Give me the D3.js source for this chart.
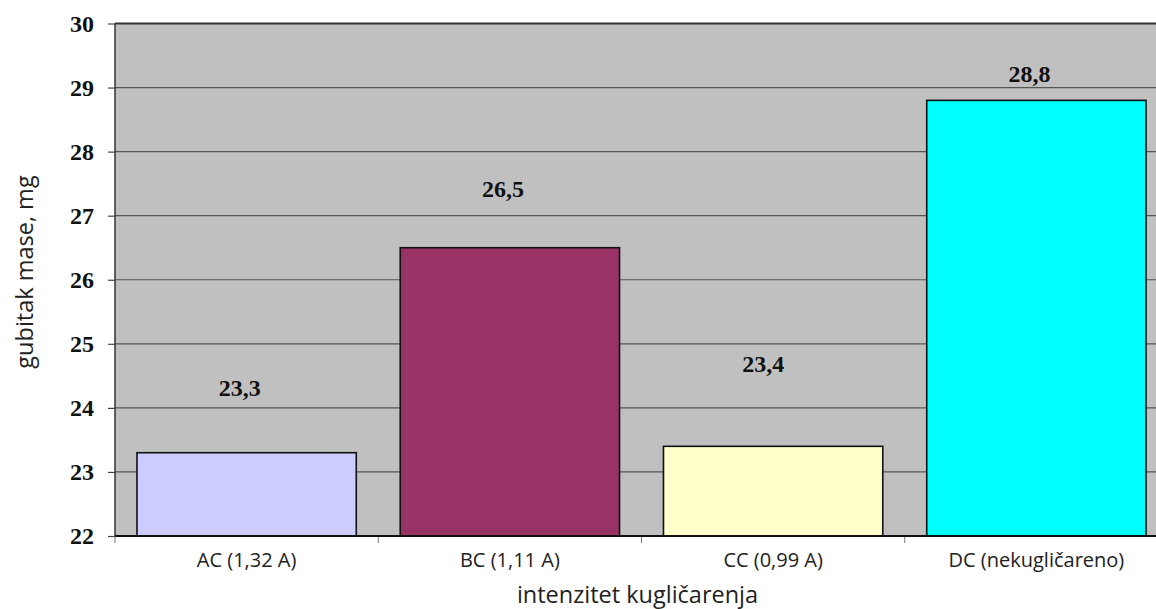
<!DOCTYPE html>
<html><head><meta charset="utf-8">
<script src="https://cdn.jsdelivr.net/npm/d3@7"></script>
<style>html,body{margin:0;padding:0;background:#fff;}svg{display:block;}</style>
</head><body>
<script>
const categories = ["AC (1,32 A)", "BC (1,11 A)", "CC (0,99 A)", "DC (nekugličareno)"];
const values = [23.3, 26.5, 23.4, 28.8];
const valueLabels = ["23,3", "26,5", "23,4", "28,8"];
const barColors = ["#ccccff", "#993366", "#ffffcc", "#00ffff"];
const yTicks = [22, 23, 24, 25, 26, 27, 28, 29, 30];
const yTitle = "gubitak mase, mg";
const xTitle = "intenzitet kugličarenja";

const W = 1156, H = 609;
const plot = {left: 115, right: 1168, top: 23.5, bottom: 536};
const svg = d3.select("body").append("svg").attr("width", W).attr("height", H);

const x = d3.scaleBand().domain(categories).range([plot.left, plot.right]).paddingInner(0.167).paddingOuter(0.0835);
const xb = d3.scaleBand().domain(categories).range([plot.left, plot.right]);
const y = d3.scaleLinear().domain([22, 30]).range([plot.bottom, plot.top]);

// background
svg.append("rect").attr("x", plot.left).attr("y", plot.top)
  .attr("width", plot.right - plot.left).attr("height", plot.bottom - plot.top)
  .attr("fill", "#c0c0c0");

// gridlines
svg.append("g").selectAll("line").data(yTicks.filter(t => t > 22 && t < 30)).join("line")
  .attr("x1", plot.left).attr("x2", plot.right)
  .attr("y1", d => y(d)).attr("y2", d => y(d))
  .attr("stroke", "#555").attr("stroke-width", 1.2);

// border top & left
svg.append("line").attr("x1", plot.left).attr("x2", plot.right).attr("y1", y(30)).attr("y2", y(30)).attr("stroke", "#333").attr("stroke-width", 2);
svg.append("line").attr("x1", plot.left).attr("x2", plot.left).attr("y1", plot.top).attr("y2", plot.bottom).attr("stroke", "#333").attr("stroke-width", 1.5);

// bars
svg.append("g").selectAll("rect").data(values).join("rect")
  .attr("x", (d, i) => x(categories[i]))
  .attr("y", d => y(d))
  .attr("width", x.bandwidth())
  .attr("height", d => y(22) - y(d))
  .attr("fill", (d, i) => barColors[i])
  .attr("stroke", "#111").attr("stroke-width", 1.6);

// y axis
const yAxis = d3.axisLeft(y).tickValues(yTicks).tickSize(7).tickPadding(14).tickFormat(d3.format("d"));
const gy = svg.append("g").attr("transform", `translate(${plot.left},0)`).call(yAxis);
gy.select(".domain").remove();
gy.selectAll(".tick line").attr("stroke", "#444").attr("stroke-width", 1.2);
gy.selectAll(".tick text").attr("font-family", "'Liberation Serif', 'Times New Roman', serif")
  .attr("font-weight", "bold").attr("font-size", 24).attr("fill", "#111");

// x axis
const xAxis = d3.axisBottom(xb).tickSize(0).tickPadding(17);
const gx = svg.append("g").attr("transform", `translate(0,${plot.bottom})`).call(xAxis);
gx.select(".domain").remove();
gx.selectAll(".tick text").attr("font-family", "'Open Sans', sans-serif")
  .attr("font-size", 20).attr("fill", "#222");
// boundary ticks between categories
svg.append("g").selectAll("line").data(categories).join("line")
  .attr("x1", d => xb(d)).attr("x2", d => xb(d))
  .attr("y1", plot.bottom).attr("y2", plot.bottom + 7)
  .attr("stroke", "#777").attr("stroke-width", 1);
svg.append("line").attr("x1", plot.left).attr("x2", plot.right).attr("y1", plot.bottom).attr("y2", plot.bottom)
  .attr("stroke", "#111").attr("stroke-width", 2);

// value labels (manually placed offsets as in source chart)
const labelDy = [-57, -51, -74, -18];
const labelDx = [-7, -7, -10, -7];
svg.append("g").selectAll("text").data(values).join("text")
  .attr("x", (d, i) => x(categories[i]) + x.bandwidth() / 2 + labelDx[i])
  .attr("y", (d, i) => y(d) + labelDy[i])
  .attr("text-anchor", "middle")
  .attr("font-family", "'Liberation Serif', 'Times New Roman', serif")
  .attr("font-weight", "bold").attr("font-size", 24).attr("fill", "#111")
  .text((d, i) => valueLabels[i]);

// titles
svg.append("text").attr("x", (plot.left + plot.right) / 2 - 4).attr("y", 603)
  .attr("text-anchor", "middle").attr("font-family", "'Open Sans', sans-serif")
  .attr("font-size", 23.5).attr("fill", "#222").text(xTitle);
svg.append("text").attr("transform", `translate(33,272) rotate(-90)`)
  .attr("text-anchor", "middle").attr("font-family", "'Open Sans', sans-serif")
  .attr("font-size", 23.5).attr("fill", "#222").text(yTitle);
</script>
</body></html>
